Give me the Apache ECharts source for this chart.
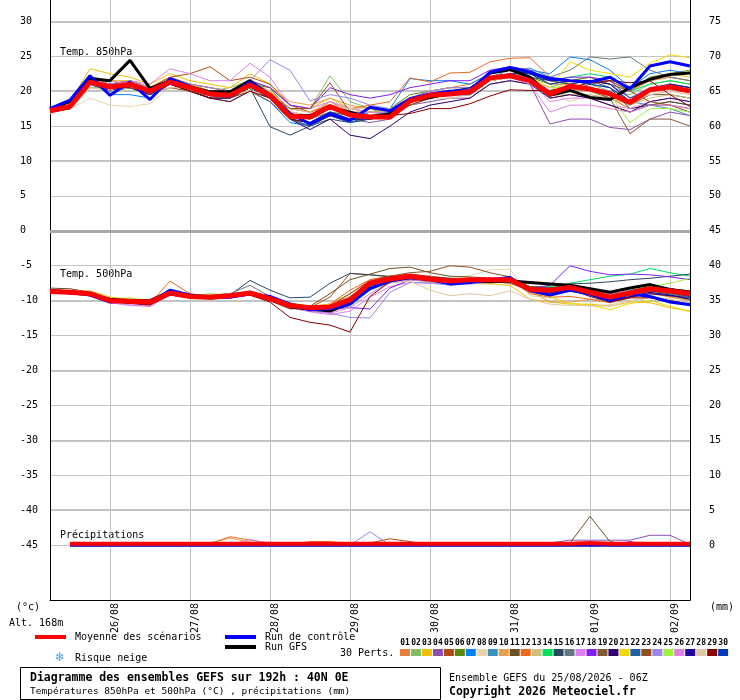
<!DOCTYPE html>
<html>
<head>
<meta charset="utf-8">
<title>Diagramme des ensembles GEFS</title>
<script src="https://cdn.jsdelivr.net/npm/echarts@6/dist/echarts.min.js"></script>
<style>
  html, body { margin: 0; padding: 0; background: #fff; }
  #main { width: 740px; height: 700px; }
</style>
</head>
<body>
<div id="main"></div>
<script type="text/javascript">
// échéances (pas de 6 h)
var times = [
  '25/08 06Z','25/08 12Z','25/08 18Z',
  '26/08 00Z','26/08 06Z','26/08 12Z','26/08 18Z',
  '27/08 00Z','27/08 06Z','27/08 12Z','27/08 18Z',
  '28/08 00Z','28/08 06Z','28/08 12Z','28/08 18Z',
  '29/08 00Z','29/08 06Z','29/08 12Z','29/08 18Z',
  '30/08 00Z','30/08 06Z','30/08 12Z','30/08 18Z',
  '31/08 00Z','31/08 06Z','31/08 12Z','31/08 18Z',
  '01/09 00Z','01/09 06Z','01/09 12Z','01/09 18Z',
  '02/09 00Z','02/09 06Z'
];
var dayTicks = ['26/08','27/08','28/08','29/08','30/08','31/08','01/09','02/09'];

// couleurs des 30 perturbations
var memberColors = [
  '#e8823a','#80c060','#f0c000','#8c50b0','#b04c10','#5a8a10','#0080ff','#e8d4a8','#3890c0','#e8a050',
  '#6b5020','#f06820','#d0c080','#00e060','#2a4860','#687880','#e080f0','#8020f0','#805a30','#300070',
  '#f0d800','#2060a0','#905020','#9888e8','#a0f040','#e080e0','#2000a0','#e0c8a0','#880000','#0038c0'
];

// Temp. 850hPa
var t850Mean = [17.2,17.8,21.3, 20.6,21.0,20.0,21.3, 20.5,19.6,19.4,20.9, 19.4,16.4,16.3,17.8, 16.6,16.3,16.3,18.6, 19.4,19.6,19.9,21.9, 22.2,21.5,19.6,20.7, 20.3,19.6,18.4,20.2, 20.6,20.0];
var t850Ctrl = [17.5,18.7,22.2, 19.4,21.3,18.8,21.8, 20.7,19.5,19.3,21.3, 19.5,16.8,15.3,16.7, 15.8,17.7,17.2,18.9, 19.6,20.0,20.1,22.7, 23.4,22.7,21.8,21.5, 21.3,22.0,20.3,23.6, 24.2,23.6];
var t850Gfs  = [17.5,18.5,21.8, 21.5,24.4,20.4,21.5, 20.6,19.9,19.9,21.5, 19.4,16.5,16.5,17.7, 17.0,16.3,16.7,18.6, 19.1,19.8,19.8,22.6, 23.1,22.0,19.4,20.1, 19.1,18.8,20.5,21.7, 22.4,22.6];
var t850Members = [
  [17.5,18,22, 21,21.5,20.5,22, 21,20,20,21.5, 20,17,16.5,18.5, 17,16.5,17,19, 20,20.5,21,22.5, 23,22.5,21,21, 21.5,21,20,21.5, 22,21.5],
  [17,17.5,21, 20,21,20.5,21.5, 21,20,20.5,21.5, 20.5,18,17.5,22.2, 18.5,17.5,16.5,18.5, 19.5,20,20.5,22, 22.5,21.5,20.5,21.5, 21,20,19.5,21, 21.5,21],
  [17.5,18.5,23.2, 22.5,22,21,22.5, 21.5,21,20.5,22.5, 21,18,17.5,19, 17.5,17,17,19, 19.5,20,20,22, 22.5,22,20,21.5, 22,21,20,22, 22.5,22],
  [17,17.5,21, 20.5,21,19.5,21, 20,19,19,20.5, 19,16,15.5,17, 16,15.5,16,18, 18.5,19,19,21, 21.5,21,15.3,16, 16,14.8,14.5,16, 17,16.5],
  [17,18,21.5, 21,21.5,20.5,22, 22.5,23.5,21.5,22, 21,18,17,18, 17,16.5,16.5,18.5, 19.5,20,20,21.5, 22,21.5,19,19.5, 19,18,17,18, 18,17.5],
  [17.5,18,21.5, 20.5,21,20,21.5, 21,20.5,20,21, 20.5,17,16,17.5, 16.5,17,17.5,19.5, 20,20.5,20.5,22.5, 23,22,21,21.5, 22,21,20,22, 22.5,23],
  [17.5,18.5,22, 19.5,19.5,19,21, 20,19,18.5,20, 18.5,15.5,15,16.5, 16,17,17.5,21.8, 21.5,21.5,21,22.5, 23,23,22.5,24.9, 24.5,23,20.5,22.5, 23,22.5],
  [16.8,17.5,19, 18,17.8,18.2,20.5, 20,19.5,19,20, 19,17,16,17, 16,16,16.5,18, 19,19,19.5,21, 21.5,21,20,18.5, 19.5,19,18,19.5, 20,19.5],
  [17,18,21, 20,20.5,19.5,21, 20.5,19.5,19,20.5, 19,16,15,16.5, 15.5,16,17,18.5, 19,19.5,19.5,22, 23,23.3,22,21.5, 21,20.5,18.5,18, 17.5,16.5],
  [17.5,18,22, 21.5,21.5,20.5,21.5, 21,20.5,20,21.5, 20.5,18.5,18,19, 18,17.5,17,19, 20,20.5,20.5,22.5, 23,22.5,21,21.5, 21.5,21.5,20,21.5, 22,21.5],
  [17,17.5,20.5, 20.5,21,20,21, 20,19,19,20.5, 19,16,15.5,17, 16.5,16,16.5,18.5, 19,19.5,20,22, 22.5,22,20,20.5, 20.5,20,18,19.5, 19.5,19],
  [17.5,18,22, 21,21.5,20.5,22, 21,20.5,20,21, 20,17.5,17,18, 17.5,18,18.5,21.9, 21.3,22.6,22.7,24.2, 24.7,24.8,22,21, 20.5,19,17.5,18, 18.5,18],
  [17,17.5,20.5, 20.5,20.5,20,21.5, 20.5,19.5,19.5,21, 20,17.5,17,18.5, 17.5,17,16.5,18, 19,19.5,20,21.5, 22,21.5,19.5,19.5, 19.5,19,18,19, 19.5,19],
  [17.5,18,21.5, 21,21,20,21.5, 21,20,19.5,21, 19.5,16.5,16,17.5, 16.5,16.5,17,19, 19.5,20,20.5,22.5, 23,22.5,21.5,22, 22.5,22,20,21, 21.5,21],
  [17,17.5,21, 20,20.5,19.5,21, 20.5,19.5,19,20.5, 14.9,13.7,15,16, 15.5,16,17,18.5, 19,19.5,19.5,21.5, 22,22,21.5,21, 21.5,20.5,17.5,18, 18.5,18],
  [17,17.5,21, 20.5,21,20,21, 20.5,19.5,19.5,20.5, 19,16.5,16,17, 16.5,16.5,17,18.5, 19.5,20,20,22, 22.5,22.5,22,23, 24.9,24.6,24.9,23, 22,21.5],
  [17.5,18,22, 21.5,21.5,21,23.2, 22.5,21.5,21.5,24, 22,18,17.5,18.5, 17.5,17,17,19, 19.5,20,20,21.5, 22,21.5,18.5,19, 19,18,17.5,18.5, 19,18.5],
  [17,17.5,21.5, 21,21.5,20.5,21.5, 21,20,20,21.5, 20.5,18,17.5,20.5, 19.5,19,19.5,20.5, 21,21.5,21.5,23, 23.5,23,21.5,22, 22,21.5,19,20.5, 21,20.5],
  [17,17.5,21, 20.5,20.5,20,21, 20.5,19,19,20, 18.5,16,15,16.5, 16,16,17,18, 19,19.5,19.5,21.5, 22,21.5,20,20, 20,19,13.9,16, 16,15],
  [17,17.5,21, 20.5,20.5,19.5,21, 20,19,19,20.5, 19,16,14.5,16, 13.7,13.2,15,17, 18,18.5,19,21, 21.5,21,19,19.5, 19,18,17,18.5, 19,18.5],
  [17.5,18,22, 21.5,21.5,20.5,21.5, 21,20,20,21, 20,17,16.5,18, 17,17,17.5,19, 19.5,20,20.5,22, 22.5,22,20.5,24.2, 23,22.5,22,24, 25.2,24.8],
  [17,17.5,21, 20,20.5,19.5,21, 20.5,19.5,19,20.5, 19,16,15,16.5, 15.5,16.5,17,19, 19.5,20,20.5,22.5, 23,22.5,21.5,21.5, 21.5,21,19,20, 21,20.5],
  [17,18,21, 20.5,21,19.5,20.5, 20,19.5,19.5,20.5, 19.5,17.5,17.5,21.2, 17,16.5,16.5,18, 19,19.5,20,21.5, 22,21.5,20,20, 21,21.5,20,18.5, 18,17],
  [17.5,18,21.5, 21,21.5,20.5,21.5, 21,20.5,20,21.5, 24.5,23,18.6,19.5, 19,18,17.5,19, 20,20.5,20.5,22, 22.5,22,20,20.5, 20.5,20,18.5,20, 20.5,20],
  [17,17.5,21, 20.5,20.5,20,21.5, 20.5,19.5,19.5,20.5, 19.5,16.5,16,17.5, 16.5,16.5,16.5,18.5, 19,19.5,20,21.5, 22,21.5,20.5,20.5, 20,19.5,15.5,17.5, 17.5,17],
  [17.5,18,22, 21.5,21,20.5,21.5, 20.5,19.5,19.5,21, 19.5,17,16.5,18, 17,17,17,18.5, 19.5,20,20,21.5, 22,21,17,18, 18,17.5,17,18, 18,17.5],
  [17,17.5,21.5, 20,21,19.5,21, 20.5,19.5,19.5,21, 19.5,16.5,15.5,17, 16,16,17,18.5, 19.5,20,20.5,22.5, 23,22.5,21.5,21.5, 21.5,21,18.5,20, 21,20.5],
  [17,17.5,20.5, 20,20.5,19.5,20.5, 20.5,19.5,19.5,20, 19.5,17,16.5,18, 17.5,17.5,17.5,19, 19.5,19.5,20,21.5, 22,21.5,20.5,20, 20,19.5,18.5,19.5, 20,19.5],
  [17,17.5,21, 20.5,20.5,19.5,21, 20,19,18.5,20, 19,16,15.5,16.5, 16,16,16.5,16.8, 17.5,17.5,18.2,19.3, 20.2,20.1,20.1,20.5, 21.2,21.5,21.2,21.5, 19.5,17.8],
  [17.5,18,21.5, 20.5,21,19.5,21.5, 20.5,19.5,19.5,21, 19.5,16.5,15.5,17, 16,16,16.5,18.5, 19.5,20,20,22, 22.5,22.5,21,21.5, 21,20.5,18.5,20, 20.5,20]
];

// Temp. 500hPa
var t500Mean = [-8.7,-8.8,-9.0, -10.0,-10.1,-10.2,-8.9, -9.4,-9.5,-9.3,-8.9, -9.7,-10.7,-11.0,-10.9, -9.9,-7.5,-6.9,-6.5, -6.9,-7.2,-7.0,-7.0, -7.0,-8.4,-8.5,-8.1, -8.8,-9.5,-8.9,-8.3, -8.6,-9.0];
var t500Ctrl = [-8.5,-8.8,-9.2, -10.2,-10.0,-10.3,-8.5, -9.2,-9.6,-9.5,-9.0, -9.4,-10.5,-11.3,-11.2, -10.5,-8.2,-7.2,-6.7, -7.0,-7.6,-7.4,-7.0, -6.7,-8.6,-9.2,-8.5, -9.0,-10.0,-9.0,-9.4, -10.2,-10.6];
var t500Gfs  = [-8.6,-8.9,-9.1, -9.8,-10.0,-10.0,-8.7, -9.3,-9.4,-9.3,-9.0, -9.8,-10.9,-11.2,-11.5, -10.4,-7.6,-7.0,-6.7, -6.8,-7.4,-7.1,-7.3, -7.2,-7.4,-7.6,-7.8, -8.3,-8.8,-8.2,-7.7, -8.4,-8.8];
var t500Members = [
  [-8.5,-8.7,-8.8, -9.8,-10,-10,-8.7, -9.3,-9.3,-9.2,-8.8, -9.5,-10.5,-11,-10.5, -9,-7,-6.5,-6.3, -6.8,-7,-6.8,-7, -7.2,-8.5,-8.8,-8.3, -9,-9.8,-9.2,-8.8, -9,-9.5],
  [-8.8,-9,-9.3, -10.2,-10.3,-10.5,-9, -9.5,-9.8,-9.5,-9, -9.8,-11,-11.5,-11.2, -10.8,-8.5,-7.5,-7, -7.3,-7.5,-7.2,-7.2, -7,-8.3,-8.5,-8, -8.6,-9.2,-8.5,-8, -8.3,-8.8],
  [-8.6,-8.7,-8.6, -9.5,-9.8,-10,-8.8, -9.2,-9.3,-9.3,-9, -9.8,-10.8,-11.3,-11.5, -10.5,-8,-7.2,-7, -7.3,-7.5,-7.5,-7.6, -7.8,-9.8,-10.2,-10.5, -10.5,-10.8,-10.2,-10.3, -11,-11.5],
  [-8.7,-8.8,-9.1, -10.2,-10.4,-10.6,-9.2, -9.5,-9.5,-9.4,-9, -9.8,-11,-11.3,-11, -9.5,-7.5,-7,-6.8, -7,-7.2,-7,-7, -7,-8,-8.2,-8, -9,-9.5,-9,-8.5, -9,-9.3],
  [-8.5,-8.6,-9, -10,-10.2,-10.8,-9, -9.4,-9.5,-9.4,-9.2, -10,-11.2,-11,-9.5, -6.1,-6.3,-6.5,-6.2, -6.5,-6.8,-7,-7.3, -7.5,-8.6,-8.8,-8.5, -9,-9.8,-9.2,-8.5, -8.8,-9],
  [-8.6,-8.7,-9, -9.9,-10.1,-10.1,-8.8, -9.4,-9.5,-9.2,-8.9, -9.7,-10.6,-11,-10.8, -9.8,-7.8,-7,-6.6, -7,-7.2,-7,-7, -7,-8.3,-8.4,-8.1, -8.8,-9.6,-8.9,-8.2, -8.4,-8.8],
  [-8.4,-8.6,-9.2, -10,-10,-10.2,-8.6, -9.4,-9.6,-9.5,-9, -9.5,-10.3,-11,-11, -10.5,-8.5,-7,-6.8, -7.2,-7.3,-7.3,-7.2, -7.2,-8.8,-9,-8.6, -9.2,-10,-9.5,-9, -9.2,-10],
  [-8.9,-8.8,-8.8, -10.2,-10.4,-10.2,-9.2, -9.4,-9.5,-9.3,-8.6, -9.6,-10.8,-11.2,-11, -10,-8,-7,-6.5, -6.6,-6.8,-6.4,-5.6, -5.5,-9.3,-9.6,-10.5, -10.8,-10.8,-10.3,-9.5, -9.8,-10.5],
  [-8.6,-8.8,-9, -10,-10.2,-10.3,-9, -9.5,-9.4,-9.2,-8.8, -9.6,-10.6,-11.1,-11, -10.2,-7.8,-7,-6.7, -7,-7.3,-7,-6.8, -6.8,-8.2,-8.6,-8.3, -9,-9.7,-9.2,-8.8, -9.2,-9.6],
  [-8.7,-8.9,-9.2, -10.1,-10.3,-10,-9, -9.5,-9.3,-9.2,-9, -9.9,-10.7,-10.9,-10.5, -9.4,-7.4,-6.8,-6.5, -6.8,-7,-6.8,-6.9, -7.1,-8.6,-10.2,-10.2, -9.8,-10,-9.2,-8.8, -9.5,-10],
  [-8.2,-8.3,-8.8, -9.8,-10,-10,-8.7, -9.2,-9.3,-9.2,-8.8, -9.5,-10.4,-10.8,-9, -7,-6.2,-5.4,-5.2, -6,-6.5,-6.6,-6.8, -7,-8,-8.2,-8, -8.5,-9.3,-8.6,-8, -8.3,-8.6],
  [-8.7,-8.8,-9, -10.1,-10.3,-10.4,-7.2, -9,-9.4,-9.3,-9, -9.8,-10.8,-11,-10.5, -8.5,-7,-6.5,-6.4, -6.8,-7,-7,-7.2, -7,-9,-9.5,-9.4, -9.8,-10.3,-9.6,-9, -9.4,-9.8],
  [-8.7,-8.8,-9.1, -10,-10.2,-10.3,-9, -9.5,-9.6,-9.4,-9, -9.8,-10.8,-11.2,-11, -10,-8,-7.3,-7, -7.4,-7.6,-7.4,-7.4, -7.3,-8.6,-8.7,-8.4, -9.2,-9.8,-9.3,-8.7, -9,-9.4],
  [-8.6,-8.7,-8.9, -9.9,-10.1,-10.1,-8.8, -9.3,-9.4,-9.1,-8.8, -9.7,-10.7,-11,-10.8, -9.6,-7.6,-7,-6.7, -7,-7.2,-7,-7, -6.9,-8,-8,-7.5, -7,-6.5,-6.2,-5.4, -6,-6.5],
  [-8.6,-8.8,-9, -9.9,-10.1,-10.2,-8.7, -9.3,-9.4,-9.2,-7.1, -8.5,-9.6,-9.5,-7.5, -6.1,-6.3,-6.6,-6.5, -6.6,-6.8,-6.9,-7, -7,-8,-8.2,-7.6, -7.5,-7.3,-7,-6.8, -6.5,-6.2],
  [-8.4,-8.6,-8.8, -9.9,-10.1,-10.2,-8.6, -9.3,-9.2,-9,-7.8, -9.4,-10.5,-11,-10.8, -9.8,-7.6,-6.9,-6.6, -6.9,-7.1,-6.9,-7, -7.1,-8.4,-8.6,-8.2, -8.6,-9.4,-8.8,-8.2, -8.5,-8.8],
  [-8.8,-9,-9.2, -10.3,-10.7,-10.8,-9.2, -9.6,-9.6,-9.6,-9.2, -9.9,-11,-11.6,-12, -11.5,-9.5,-8,-7.4, -7.5,-7.6,-7.4,-7.4, -7.3,-8.5,-8.8,-8.3, -8.6,-9,-8.7,-8.4, -8.7,-9],
  [-8.7,-8.9,-9.1, -10.1,-10.3,-10.4,-9, -9.5,-9.6,-9.4,-9, -9.8,-10.8,-11.2,-11.2, -11,-11.2,-8.2,-7, -7.2,-7.4,-7.2,-7.2, -7.2,-8.2,-7.8,-5, -5.8,-6.3,-6.2,-6.3, -6.6,-7],
  [-8.6,-8.8,-9, -10,-10.2,-10.2,-8.9, -9.4,-9.5,-9.3,-8.9, -9.7,-10.6,-11,-10.6, -9.6,-7.5,-6.9,-6.5, -6.9,-7.1,-6.9,-6.9, -7,-8.3,-8.4,-8, -8.8,-9.5,-8.9,-8.3, -8.5,-9],
  [-8.7,-8.9,-9.2, -10.1,-10.4,-10.4,-9.1, -9.6,-9.7,-9.5,-9.1, -9.9,-10.9,-11.4,-11.4, -10.6,-8.4,-7.3,-6.9, -7.2,-7.4,-7.2,-7.2, -7.2,-8.6,-8.8,-8.4, -9.4,-10.2,-9.5,-9, -9.3,-9.6],
  [-8.5,-8.6,-8.7, -9.8,-10,-10.1,-8.8, -9.2,-9.2,-9.2,-8.9, -9.6,-10.4,-10.8,-10.5, -9.6,-7.6,-7,-6.7, -7,-7.1,-7,-7, -7.1,-8.8,-9.4,-10.4, -10.6,-11.3,-10.4,-10, -10.8,-11.6],
  [-8.6,-8.8,-9.1, -10,-10.2,-10.2,-8.8, -9.3,-9.5,-9.3,-8.8, -9.6,-10.6,-11,-10.8, -9.8,-7.8,-7.1,-6.8, -7.1,-7.3,-7.1,-7, -7,-8.4,-8.5,-8.3, -9,-9.8,-9.2,-8.6, -9,-9.6],
  [-8.7,-8.8,-9, -10.1,-10.3,-10.4,-9, -9.6,-9.5,-9.3,-9, -9.8,-10.8,-11.2,-10.8, -9,-7.2,-6.5,-6, -5.8,-5,-5.2,-6, -6.6,-8,-8.3,-8, -8.8,-9.6,-9.2,-8.6, -9,-9.4],
  [-8.7,-8.9,-9, -10,-10.3,-10.6,-9.1, -9.6,-9.6,-9.4,-9.1, -10,-11,-11.5,-11.8, -12.4,-12.5,-8.8,-7.4, -7.5,-7.8,-7.6,-7.4, -7.2,-8.4,-8.6,-8.3, -9.2,-9.6,-8.8,-8.3, -8.5,-8.8],
  [-8.7,-8.8,-9, -9.8,-9.6,-10,-8.8, -9.3,-9,-9.2,-8.9, -9.7,-10.7,-11,-11, -10,-8,-7.2,-6.8, -7.2,-7.3,-7.1,-7.2, -7.2,-8.4,-8.5,-8.2, -8.9,-9.6,-8.8,-8, -7.5,-6.8],
  [-8.8,-9,-9.3, -10.2,-10.6,-10.8,-9.2, -9.5,-9.6,-9.5,-9.2, -9.8,-10.9,-11.5,-11.8, -11,-9,-7.4,-7, -7.2,-7.4,-7.4,-7.3, -7.3,-8.6,-8.8,-8.4, -8.6,-9,-8.6,-8.4, -8.6,-8.9],
  [-8.6,-8.8,-9.1, -10.1,-10.2,-10.3,-8.9, -9.4,-9.5,-9.3,-8.9, -9.5,-10.5,-11,-10.8, -9.6,-7.6,-6.9,-6.6, -7,-7.2,-7,-7, -7.1,-8.6,-8.8,-8.5, -9.2,-10,-9.4,-8.8, -9.2,-9.8],
  [-8.5,-8.7,-8.9, -10,-10.2,-10.1,-8.8, -9.3,-9.4,-9.2,-8.8, -9.8,-10.8,-11.2,-11, -10,-7.8,-7.4,-7.2, -8.5,-9.3,-9,-9.3, -8.6,-9.8,-10.5,-10.7, -10.7,-10.6,-10,-9.5, -9.8,-10.3],
  [-8.6,-8.8,-9.1, -10.1,-10.4,-10.6,-9.2, -9.5,-9.6,-9.5,-9.2, -10.2,-12.4,-13.1,-13.5, -14.5,-9.4,-7.3,-6.8, -7.1,-7.3,-7.1,-7.1, -7.1,-8.2,-8.5,-8.3, -9.2,-10.2,-9.6,-9.6, -10,-10.5],
  [-8.6,-8.8,-9.1, -10.1,-10.2,-10.3,-8.8, -9.4,-9.5,-9.3,-9, -9.8,-10.8,-11.1,-11, -10,-7.8,-7.1,-6.8, -7.1,-7.3,-7.1,-7, -7.1,-8.5,-8.6,-8.4, -9,-9.7,-9.1,-8.4, -8.8,-9.4]
];

// Précipitations (mm), échelle de droite
var dry  = [null, 0,0,0,0, 0,0,0,0, 0,0,0,0, 0,0,0,0, 0,0,0,0, 0,0,0,0, 0,0,0,0, 0,0,0,0];
var pr04 = [null, 0,0,0,0, 0,0,0,0, 0,0,0,0, 0,0,0,0, 0,0,0,0, 0,0,0,0, 0.3,0.7,0.7,0.7, 0.7,1.4,1.4,0.1];
var pr05 = [null, 0,0,0,0, 0,0,0,0, 0,0,0,0, 0,0,0,0.3, 0.9,0.5,0,0, 0,0,0,0, 0,0,0,0, 0,0,0,0];
var pr10 = [null, 0,0,0,0, 0,0,0,0.3, 1.0,0.4,0,0, 0,0,0,0, 0,0,0,0, 0,0,0,0, 0,0,0,0, 0,0,0,0];
var pr11 = [null, 0,0,0,0, 0,0,0,0, 0,0,0,0, 0,0,0,0, 0,0,0,0, 0,0,0,0, 0,0.3,4.1,0.5, 0,0,0,0];
var pr12 = [null, 0,0,0,0, 0,0,0,0.2, 1.2,0.7,0.3,0, 0.5,0.5,0.2,0, 0,0,0,0, 0,0,0,0, 0,0,0,0, 0,0,0,0];
var pr13 = [null, 0,0,0,0, 0,0,0,0, 0,0,0,0, 0,0,0,0, 0,0,0,0, 0,0,0,0, 0,0,0,0.4, 0,0,0,0];
var pr17 = [null, 0,0,0,0, 0,0,0,0, 0,0.8,0.2,0, 0,0,0,0, 0,0,0,0, 0,0,0,0, 0,0,0,0, 0,0,0,0];
var pr18 = [null, 0,0,0,0, 0,0,0,0, 0,0,0,0, 0,0,0,0, 0,0,0,0, 0,0,0,0, 0,0,0,0, 0.5,0,0,0];
var pr24 = [null, 0,0,0,0, 0,0,0,0, 0,0,0,0, 0,0,0,1.9, 0,0,0,0, 0,0,0,0, 0,0,0,0, 0,0,0,0];
var precipMembers = [dry,dry,dry,pr04,pr05,dry,dry,dry,dry,pr10, pr11,pr12,pr13,dry,dry,dry,pr17,pr18,dry,dry,
                     dry,dry,dry,pr24,dry,dry,dry,dry,dry,dry];
var precipMean = [null, 0.2,0.2,0.2,0.2, 0.2,0.2,0.2,0.2, 0.2,0.2,0.2,0.2, 0.2,0.2,0.2,0.2, 0.2,0.2,0.2,0.2, 0.2,0.2,0.2,0.2, 0.2,0.2,0.3,0.2, 0.2,0.2,0.2,0.2];
var precipCtrl = dry;
var precipGfs = dry;

var FONT = '"DejaVu Sans Mono", "Liberation Mono", monospace';
var GRID_GRAY = '#c4c4c4';

// lignes horizontales : fines tous les 5, épaisses tous les 10
var tickVals = [];
for (var v = -55; v <= 35; v += 5) tickVals.push(v);
var thinColors = tickVals.map(function (v) { return (v >= -45 && v <= 30) ? GRID_GRAY : 'rgba(0,0,0,0)'; });
var thickColors = tickVals.map(function (v) { return (v % 10 === 0 && v >= -40 && v <= 30 && v !== 0) ? GRID_GRAY : 'rgba(0,0,0,0)'; });

function isDay(i, val) { return val.slice(6) === '00Z' && dayTicks.indexOf(val.slice(0, 5)) >= 0; }

var myCharts = echarts.init(document.getElementById('main'));

var series = [];
function line(data, color, width, yIdx, extra) {
  var s = {
    type: 'line', data: data, xAxisIndex: 0, yAxisIndex: yIdx,
    symbol: 'none', silent: true, animation: false,
    lineStyle: { color: color, width: width },
    itemStyle: { color: color }
  };
  if (extra) for (var k in extra) s[k] = extra[k];
  series.push(s);
}

// ligne double du 0
line([], '#000', 1, 0, {
  markLine: { silent: true, symbol: 'none', label: { show: false },
    lineStyle: { color: '#a8a8a8', width: 3, type: 'solid' }, data: [{ yAxis: 0 }] }
});

memberColors.forEach(function (c, i) { line(t850Members[i], c, 1, 0); });
memberColors.forEach(function (c, i) { line(t500Members[i], c, 1, 0); });
memberColors.forEach(function (c, i) { line(precipMembers[i], c, 1, 1); });

line(t850Gfs, '#000000', 3, 0);
line(t500Gfs, '#000000', 3, 0);
line(precipGfs, '#000000', 3, 1);
line(t850Ctrl, '#0000ff', 3, 0);
line(t500Ctrl, '#0000ff', 3, 0);
line(precipCtrl, '#0000ff', 3, 1);
line(t850Mean, '#ff0000', 5, 0);
line(t500Mean, '#ff0000', 5, 0);
line(precipMean, '#ff0000', 4, 1);

// légende et textes
var gfx = [];
function txt(x, y, s, size, bold, align) {
  gfx.push({ type: 'text', x: x, y: y, silent: true, style: {
    text: s, font: (bold ? 'bold ' : '') + size + 'px ' + FONT, fill: '#000',
    align: align || 'left', verticalAlign: 'middle' } });
}
function box(x, y, w, h, color) {
  gfx.push({ type: 'rect', silent: true, shape: { x: x, y: y, width: w, height: h }, style: { fill: color } });
}
txt(60, 52, 'Temp. 850hPa', 10);
txt(60, 274, 'Temp. 500hPa', 10);
txt(60, 535, 'Précipitations', 10);
txt(16, 607, '(°c)', 10);
txt(710, 607, '(mm)', 10);
txt(9, 623, 'Alt. 168m', 10);
box(35, 635, 31, 4, '#ff0000');
txt(75, 637, 'Moyenne des scénarios', 10);
box(225, 635, 31, 4, '#0000ff');
txt(265, 637, 'Run de contrôle', 10);
box(225, 645, 31, 4, '#000000');
txt(265, 647, 'Run GFS', 10);
gfx.push({ type: 'text', x: 60, y: 658, silent: true, style: {
  text: '\u2744', font: '12px "DejaVu Sans"', fill: '#4aa0e8', align: 'center', verticalAlign: 'middle' } });
txt(75, 658, 'Risque neige', 10);
txt(340, 653, '30 Perts.', 10);
memberColors.forEach(function (c, i) {
  var x = 400 + i * 10.97;
  box(x, 649, 10, 7, c);
  txt(x + 5, 643, (i < 9 ? '0' : '') + (i + 1), 8, true, 'center');
});
gfx.push({ type: 'rect', silent: true, shape: { x: 20.5, y: 667.5, width: 420, height: 32 },
  style: { fill: 'none', stroke: '#000', lineWidth: 1 } });
txt(30, 678, 'Diagramme des ensembles GEFS sur 192h : 40N 0E', 11.5, true);
txt(30, 692, 'Températures 850hPa et 500hPa (°C) , précipitations (mm)', 9.5);
txt(449, 678, 'Ensemble GEFS du 25/08/2026 - 06Z', 10);
txt(449, 692, 'Copyright 2026 Meteociel.fr', 11.5, true);

var labelStyle = { color: '#000', fontFamily: FONT, fontSize: 10 };

option = {
  animation: false,
  backgroundColor: '#ffffff',
  grid: [
    // zone des données, étendue de -55 à 35 (hors cadre en haut et en bas)
    { left: 50, right: 50, top: -13.6, bottom: 85.1, containLabel: false, outerBoundsMode: 'none' },
    // cadre visible
    { left: 50, right: 50, top: 0, bottom: 100, containLabel: false, outerBoundsMode: 'none' }
  ],
  xAxis: [
    { gridIndex: 0, type: 'category', data: times, boundaryGap: false, show: false },
    { gridIndex: 1, type: 'category', data: times, boundaryGap: false,
      axisLine: { show: true, lineStyle: { color: '#000', width: 1 } },
      axisTick: { show: false },
      axisLabel: Object.assign({ interval: isDay, rotate: 90, margin: 3, verticalAlign: 'top',
        formatter: function (v) { return v.slice(0, 5); } }, labelStyle),
      splitLine: { show: true, interval: isDay, lineStyle: { color: GRID_GRAY, width: 1 } } }
  ],
  yAxis: [
    { gridIndex: 0, type: 'value', position: 'left', min: -55, max: 35, interval: 5,
      axisLine: { show: false }, axisTick: { show: false },
      axisLabel: Object.assign({ margin: 30, align: 'left',
        formatter: function (v) { return (v >= -45 && v <= 30) ? String(v) : ''; } }, labelStyle),
      splitLine: { show: true, lineStyle: { color: thinColors, width: 1 } } },
    { gridIndex: 0, type: 'value', position: 'right', min: -10, max: 80, interval: 5,
      axisLine: { show: false }, axisTick: { show: false },
      axisLabel: Object.assign({ margin: 19,
        formatter: function (v) { return (v >= 0 && v <= 75) ? String(v) : ''; } }, labelStyle),
      splitLine: { show: false } },
    { gridIndex: 0, type: 'value', position: 'left', min: -55, max: 35, interval: 5,
      axisLine: { show: false }, axisTick: { show: false }, axisLabel: { show: false },
      splitLine: { show: true, lineStyle: { color: thickColors, width: 2 } } },
    { gridIndex: 1, type: 'value', position: 'left', min: 0, max: 1,
      axisLine: { show: true, lineStyle: { color: '#000', width: 1 } },
      axisTick: { show: false }, axisLabel: { show: false }, splitLine: { show: false } },
    { gridIndex: 1, type: 'value', position: 'right', min: 0, max: 1,
      axisLine: { show: true, lineStyle: { color: '#000', width: 1 } },
      axisTick: { show: false }, axisLabel: { show: false }, splitLine: { show: false } }
  ],
  graphic: { elements: gfx },
  series: series
};

myCharts.setOption(option);
</script>
</body>
</html>
